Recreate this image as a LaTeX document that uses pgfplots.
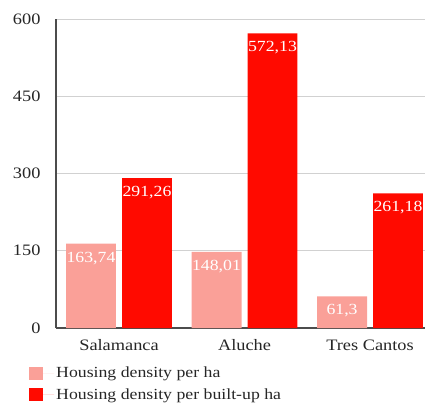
\documentclass[border=0pt]{standalone}
\usepackage{pgfplots}
\pgfplotsset{compat=1.18}
\usepackage{pgfplotstable}
\usepackage{fontspec}
\setmainfont[FakeStretch=1.15]{Liberation Serif}
\definecolor{lightbar}{RGB}{250,160,152}
\definecolor{redbar}{RGB}{255,10,0}
\pgfplotstableread{
x y label
0 163.74 163,74
1 148.01 148,01
2 61.3 61,3
}\lighttable
\pgfplotstableread{
x y label
0 291.26 291,26
1 572.13 572,13
2 261.18 261,18
}\redtable
\begin{document}
\begin{tikzpicture}
\useasboundingbox (-56bp,-75bp) rectangle (369bp,328bp);
\begin{axis}[
  at={(0,0)}, anchor=south west,
  scale only axis, width=369bp, height=309bp,
  ymin=0, ymax=600, ytick={0,150,300,450,600},
  xmin=-0.502, xmax=2.438,
  xtick={0,1,2}, xticklabels={Salamanca,Aluche,Tres Cantos},
  axis lines*=left,
  axis line style={black!70, line width=1.5bp},
  ymajorgrids, grid style={black!18, line width=0.9bp},
  major tick length=0pt,
  ybar, bar width=0.398,
  /pgf/number format/assume math mode=true,
  tick label style={font=\fontsize{16}{16}\selectfont, text=black!85},
  yticklabel style={xshift=-12bp},
  xticklabel style={yshift=-8bp},
  nodes near coords, point meta=explicit symbolic,
  every node near coord/.append style={anchor=north, text=white, font=\fontsize{15.5}{15.5}\selectfont, inner sep=3bp, yshift=-5bp},
  legend style={at={(-0.0813,-0.113)}, anchor=north west, draw=none, fill=none,
    font=\fontsize{15.5}{15.5}\selectfont, text=black!85, row sep=5bp, legend cell align=left},
  legend image code/.code={\draw[#1, draw=none] (0bp,-6.5bp) rectangle (14bp,6.5bp); \path (0bp,0bp) -- (25bp,0bp);},
]
\addplot[fill=lightbar, draw=none, bar shift=-0.223] table[x=x, y=y, meta=label]{\lighttable};
\addplot[fill=redbar, draw=none, bar shift=0.223] table[x=x, y=y, meta=label]{\redtable};
\legend{Housing density per ha, Housing density per built-up ha}
\end{axis}
\end{tikzpicture}
\end{document}
